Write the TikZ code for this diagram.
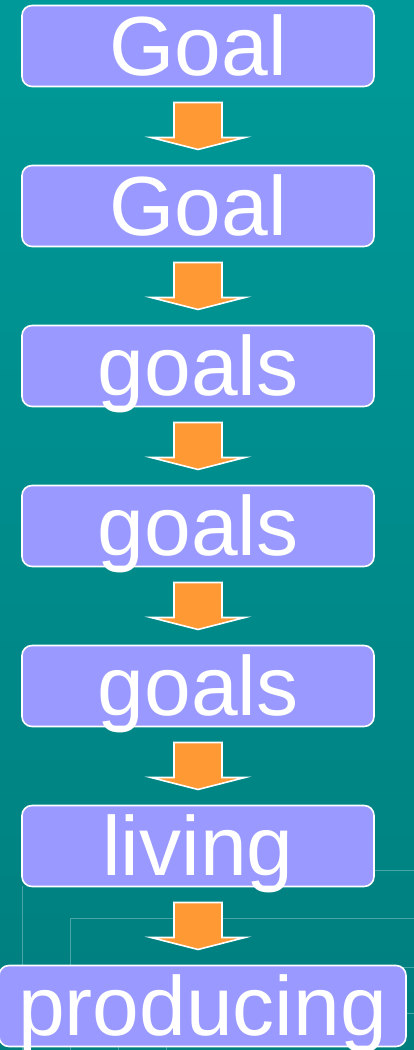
\documentclass[tikz,border=0pt]{standalone}
\usepackage{fontspec}
\setmainfont{Liberation Sans}
\usepackage{tikz}
\usetikzlibrary{
    positioning,
    calc
}
\definecolor{tealtop}{RGB}{0,153,153}
\definecolor{tealbottom}{RGB}{0,126,126}
\definecolor{boxfill}{RGB}{153,153,255}
\definecolor{arrowfill}{RGB}{255,153,51}
\definecolor{gridline}{RGB}{70,165,165}
\tikzset{
    goalbox/.style={
        rectangle, draw=white, line width=1.6pt, fill=boxfill,
        rounded corners=10pt, minimum width=352pt, minimum height=81pt,
        inner sep=0pt, outer sep=0pt, text height=60pt, text depth=0pt,
        text=white, font=\fontsize{84pt}{90pt}\selectfont
    },
    blockarrow/.style={
        draw=white, line width=1.6pt, fill=arrowfill, line join=miter
    },
    faintline/.style={
        draw=gridline, line width=0.6pt
    }
}
% block arrow from the bottom of one box to the top of the next
\newcommand{\flowarrow}[2]{%
    \draw[blockarrow] ($(#1.south)+(-24,-16)$) -- ($(#1.south)+(24,-16)$)
        -- ($(#1.south |- #2.north)+(24,28)$) -- ($(#1.south |- #2.north)+(47,28)$)
        -- ($(#1.south |- #2.north)+(0,16)$) -- ($(#1.south |- #2.north)+(-47,28)$)
        -- ($(#1.south |- #2.north)+(-24,28)$) -- cycle;
}

\begin{document}
\begin{tikzpicture}[x=1pt, y=1pt]

    \shade[top color=tealtop, bottom color=tealbottom] (0,0) rectangle (414,1050);
    \useasboundingbox (0,0) rectangle (414,1050);

    % template lines in the background
    \draw[faintline] (375,180) -- (414,180);
    \draw[faintline] (70,132) -- (414,132);
    \draw[faintline] (300,83) -- (414,83);
    \draw[faintline] (300,37) -- (414,37);
    \draw[faintline] (22,164) -- (22,0);
    \draw[faintline] (70,132) -- (70,0);
    \draw[faintline] (118,30) -- (118,0);
    \draw[faintline] (166,30) -- (166,0);

    \node[goalbox] (g1) at (198,1004) {Goal};
    \node[goalbox, below=79pt of g1] (g2) {Goal};
    \node[goalbox, below=79pt of g2] (g3) {goals};
    \node[goalbox, below=79pt of g3] (g4) {goals};
    \node[goalbox, below=79pt of g4] (g5) {goals};
    \node[goalbox, below=79pt of g5] (g6) {living};
    \node[goalbox, below=79pt of g6, xshift=4.5pt, minimum width=407pt] (g7) {producing};

    \foreach \a/\b in {g1/g2, g2/g3, g3/g4, g4/g5, g5/g6, g6/g7}
        \flowarrow{\a}{\b};

\end{tikzpicture}
\end{document}
